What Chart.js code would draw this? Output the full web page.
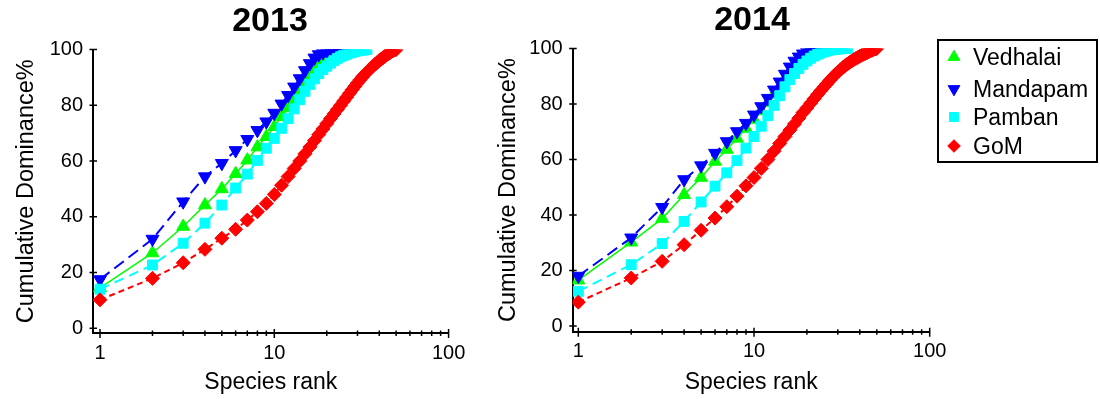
<!DOCTYPE html>
<html>
<head>
<meta charset="utf-8">
<script src="https://cdn.jsdelivr.net/npm/chart.js@4/dist/chart.umd.min.js"></script>
<style>
  html, body { margin: 0; padding: 0; background: #fff; }
  body { width: 1100px; height: 399px; position: relative; overflow: hidden;
         font-family: "Liberation Sans", Arial, sans-serif; }
  canvas.panel { position: absolute; top: 0; }
  #c2013 { left: 0; }
  #c2014 { left: 482px; }
  #legend { position: absolute; left: 937px; top: 39px; width: 157px; height: 120px;
            border: 2px solid #000; }
  .item { position: absolute; left: 0; height: 26px; width: 157px; }
  .item canvas { position: absolute; left: 5px; top: 3px; }
  .item span { position: absolute; left: 34px; top: 0; line-height: 26px; font-size: 23px; color: #000; white-space: nowrap; }
</style>
</head>
<body>
<canvas id="c2013" class="panel" width="540" height="399"></canvas>
<canvas id="c2014" class="panel" width="540" height="399"></canvas>
<div id="legend"></div>
<script>
// Cumulative dominance (%) by species rank, per site and year
const sites = ['Vedhalai', 'Mandapam', 'Pamban', 'GoM'];
const years = ['2013', '2014'];

const vedhalai2013 = [14.5, 27, 36.5, 44.2, 50, 55.4, 60.3, 65, 68.7, 72.3, 75.9, 79, 82, 85, 87.8, 90.3, 92.5, 94.3, 95.8, 97, 98, 98.7, 99.2, 99.6, 99.8, 100];
const mandapam2013 = [17.5, 32, 45.4, 54.4, 59.2, 63.8, 67.8, 71, 74.1, 77.2, 80.5, 83.6, 86.6, 89.6, 92.5, 95, 97, 98.2, 98.9, 99.3, 99.6, 99.8, 99.9, 100, 100, 100];
const pamban2013 = [14, 22.7, 30.5, 37.7, 44.2, 50.3, 55.3, 60.2, 64.6, 68.1, 71.7, 75.2, 78.7, 82, 85, 87.5, 89.5, 91.3, 92.8, 94, 95.1, 96, 96.8, 97.4, 97.9, 98.3, 98.7, 99, 99.3, 99.5, 99.7, 99.8, 99.9, 100];
const gom2013 = [10.2, 17.9, 23.5, 28.3, 32.3, 35.5, 38.8, 41.8, 44.8, 48, 51.3, 54.4, 57.3, 60, 62.6, 65, 67.3, 69.5, 71.5, 73.4, 75.2, 76.9, 78.5, 80, 81.5, 82.9, 84.3, 85.6, 86.8, 88, 89.1, 90.1, 91, 91.9, 92.7, 93.4, 94.1, 94.8, 95.4, 96, 96.5, 97, 97.5, 98, 98.4, 98.8, 99.2, 99.5, 99.8, 100];

const vedhalai2014 = [16.5, 30.2, 38.7, 47.3, 53.5, 59.3, 63.6, 67.6, 71.2, 74.4, 77.5, 80.5, 83.5, 86.4, 89.2, 91.8, 94, 95.8, 97.2, 98.3, 99, 99.5, 99.8, 100, 100];
const mandapam2014 = [18, 31.8, 42.8, 52.8, 57.8, 62.3, 66.5, 70.1, 73.1, 76.1, 79.1, 82.1, 85.1, 88, 90.8, 93.4, 95.5, 97, 98.1, 98.9, 99.4, 99.7, 99.8, 99.9, 100, 100];
const pamban2014 = [12.5, 22.1, 29.7, 37.7, 44.7, 50.4, 55.2, 59.6, 64.1, 68.3, 72, 75.8, 79.5, 83, 86.2, 88.8, 91, 92.8, 94.3, 95.5, 96.5, 97.3, 97.9, 98.4, 98.8, 99.1, 99.4, 99.6, 99.7, 99.8, 99.9, 99.95, 100, 100];
const gom2014 = [8.6, 17.3, 23.3, 29.3, 34.5, 38.9, 43, 46.8, 50.5, 53.5, 56.8, 60, 63, 65.8, 68.3, 70.6, 72.8, 74.9, 76.9, 78.6, 80.3, 81.9, 83.4, 84.8, 86.1, 87.3, 88.5, 89.6, 90.6, 91.5, 92.3, 93.1, 93.8, 94.4, 95, 95.5, 96, 96.4, 96.8, 97.2, 97.6, 97.9, 98.2, 98.5, 98.8, 99.1, 99.4, 99.6, 99.8, 100];

const xTickLabels = [1, 10, 100];
const yTickLabels = [0, 20, 40, 60, 80, 100];

const FONT = '"Liberation Sans", Arial, sans-serif';

// Marker and line style per site
const styles = {
  Vedhalai: { color: '#00FF00', pointStyle: 'triangle', rotation: 0,   radius: 7.5, dash: [],      width: 1.5, order: 4 },
  Mandapam: { color: '#0000FF', pointStyle: 'triangle', rotation: 180, radius: 7.5, dash: [12, 6], width: 2,   order: 3 },
  Pamban:   { color: '#00FFFF', pointStyle: 'rect',     rotation: 0,   radius: 7,   dash: [10, 6], width: 2,   order: 2 },
  GoM:      { color: '#FF0000', pointStyle: 'rectRot',  rotation: 0,   radius: 7,   dash: [6, 4],  width: 2,   order: 1 }
};

function buildDataset(site, values) {
  const s = styles[site];
  return {
    label: site,
    data: values.map((v, i) => ({ x: i + 1, y: v })),
    showLine: true,
    borderColor: s.color,
    backgroundColor: s.color,
    borderWidth: s.width,
    borderDash: s.dash,
    pointStyle: s.pointStyle,
    pointRotation: s.rotation,
    pointRadius: s.radius,
    pointHoverRadius: s.radius,
    pointBorderWidth: 1,
    pointBorderColor: s.color,
    pointBackgroundColor: s.color,
    order: s.order,
    tension: 0
  };
}

// Tick marks crossing the axis lines, major and minor on the log axis
const tickMarks = {
  id: 'tickMarks',
  afterDraw(chart) {
    const { ctx, chartArea, scales: { x, y } } = chart;
    ctx.save();
    ctx.strokeStyle = '#000';
    ctx.lineWidth = 1.5;
    const b = chartArea.bottom, l = chartArea.left;
    const minor = [];
    for (const d of [1, 10]) for (let k = 2; k <= 9; k++) minor.push(d * k);
    ctx.beginPath();
    for (const v of xTickLabels) {
      const px = x.getPixelForValue(v);
      ctx.moveTo(px, b - 4); ctx.lineTo(px, b + 5);
    }
    for (const v of minor) {
      const px = x.getPixelForValue(v);
      ctx.moveTo(px, b - 2.5); ctx.lineTo(px, b + 3);
    }
    for (const v of yTickLabels) {
      const py = y.getPixelForValue(v);
      ctx.moveTo(l - 3.5, py); ctx.lineTo(l + 4, py);
    }
    ctx.stroke();
    ctx.restore();
  }
};

function makeChart(id, title, series, geo) {
  return new Chart(document.getElementById(id), {
    type: 'scatter',
    data: { datasets: sites.map((s, i) => buildDataset(s, series[i])) },
    options: {
      responsive: false,
      devicePixelRatio: 1,
      animation: false,
      events: [],
      layout: { padding: 0 },
      plugins: {
        legend: { display: false },
        tooltip: { enabled: false },
        title: {
          display: true, text: title, color: '#000',
          font: { family: FONT, size: 34, weight: 'bold', lineHeight: 1.2 },
          padding: { top: geo.titleTop, bottom: geo.titleBottom }
        }
      },
      scales: {
        x: {
          type: 'logarithmic', bounds: 'data', min: geo.xMin, max: 100,
          afterBuildTicks: s => { s.ticks = xTickLabels.map(v => ({ value: v })); },
          afterFit: s => { s.height = geo.xAxisHeight; },
          grid: { display: false, drawTicks: false },
          border: { display: true, color: '#000', width: 2 },
          ticks: { color: '#000', padding: 8, maxRotation: 0, autoSkip: false,
                   font: { family: FONT, size: 20 }, callback: v => String(v) },
          title: { display: true, text: 'Species rank', color: '#000',
                   font: { family: FONT, size: 23 }, padding: { top: 0, bottom: 3 } }
        },
        y: {
          type: 'linear', bounds: 'data', min: geo.yMin, max: 100,
          afterBuildTicks: s => { s.ticks = yTickLabels.map(v => ({ value: v })); },
          afterFit: s => { s.width = geo.yAxisWidth; },
          grid: { display: false, drawTicks: false },
          border: { display: true, color: '#000', width: 2 },
          ticks: { color: '#000', padding: 10, font: { family: FONT, size: 20 } },
          title: { display: true, text: 'Cumulative Dominance%', color: '#000',
                   font: { family: FONT, size: 23.5 }, padding: { top: 12, bottom: 0 } }
        },
        // empty right-hand axis that keeps room beside the plot so the title centres on the plot
        side: {
          type: 'linear', position: 'right', display: true,
          afterFit: s => { s.width = geo.right; },
          grid: { display: false, drawTicks: false },
          border: { display: false },
          ticks: { display: false }
        }
      }
    },
    plugins: [tickMarks]
  });
}

makeChart('c2013', years[0], [vedhalai2013, mandapam2013, pamban2013, gom2013],
  { right: 91.4, xMin: 0.9116, yMin: -1.7, xAxisHeight: 66, yAxisWidth: 93, titleTop: 1.6, titleBottom: 7.1 });
makeChart('c2014', years[1], [vedhalai2014, mandapam2014, pamban2014, gom2014],
  { right: 92.3, xMin: 0.929, yMin: -2.05, xAxisHeight: 67.3, yAxisWidth: 90.7, titleTop: 0.6, titleBottom: 7.1 });

// Legend: marker glyph and site name for each series
const legend = document.getElementById('legend');
const legendRows = [56.7 - 39, 88.5 - 39, 116.8 - 39, 146 - 39];
sites.forEach((site, i) => {
  const s = styles[site];
  const row = document.createElement('div');
  row.className = 'item';
  row.style.top = (legendRows[i] - 2 - 13) + 'px';
  const cv = document.createElement('canvas');
  cv.width = 20; cv.height = 20;
  const g = cv.getContext('2d');
  g.fillStyle = s.color; g.strokeStyle = s.color; g.lineWidth = 1;
  const cx = 10, cy = 10, r = s.radius * 0.9;
  g.beginPath();
  if (s.pointStyle === 'triangle') {
    const dir = s.rotation === 180 ? -1 : 1;
    g.moveTo(cx, cy - dir * r);
    g.lineTo(cx + r * Math.sqrt(3) / 2, cy + dir * r / 2);
    g.lineTo(cx - r * Math.sqrt(3) / 2, cy + dir * r / 2);
  } else if (s.pointStyle === 'rect') {
    const h = r * Math.SQRT1_2;
    g.rect(cx - h, cy - h, 2 * h, 2 * h);
  } else {
    g.moveTo(cx, cy - r); g.lineTo(cx + r, cy); g.lineTo(cx, cy + r); g.lineTo(cx - r, cy);
  }
  g.closePath(); g.fill(); g.stroke();
  const label = document.createElement('span');
  label.textContent = site;
  row.appendChild(cv);
  row.appendChild(label);
  legend.appendChild(row);
});
</script>
</body>
</html>
